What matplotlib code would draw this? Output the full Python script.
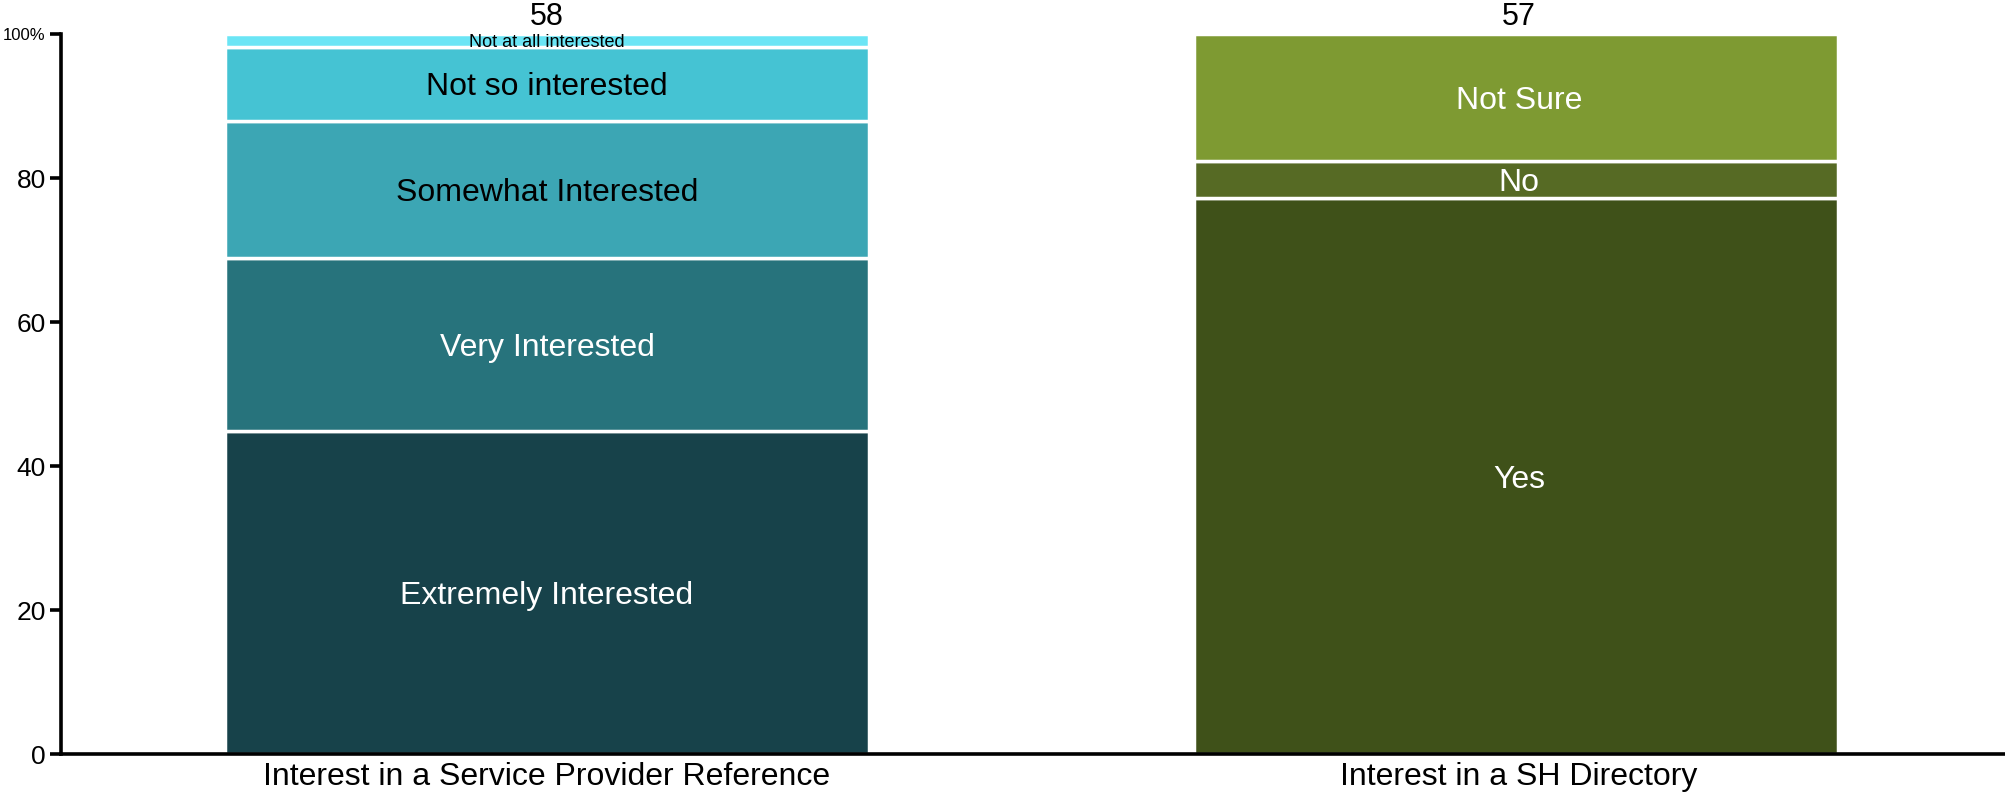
import matplotlib
matplotlib.use("Agg")
import matplotlib.pyplot as plt
import numpy as np

plt.rcParams['font.family'] = ['Liberation Sans', 'DejaVu Sans']

# data
categories = ['Interest in a Service Provider Reference', 'Interest in a SH Directory']

sp_levels = ['Extremely Interested', 'Very Interested', 'Somewhat Interested',
             'Not so interested', 'Not at all interested']
sp_counts = [26, 14, 11, 6, 1]
sp_colors = ['#17424A', '#27737C', '#3CA6B4', '#45C3D3', '#6BE5F5']
sp_text = ['white', 'white', 'black', 'black', 'black']
sp_size = [23, 23, 23, 23, 13]

dir_levels = ['Yes', 'No', 'Not Sure']
dir_counts = [44, 3, 10]
dir_colors = ['#3F5119', '#566A24', '#7E9A32']
dir_text = ['white', 'white', 'white']
dir_size = [23, 23, 23]

y_ticks = [0, 20, 40, 60, 80, 100]
y_labels = ['0', '20', '40', '60', '80', '100%']

fig = plt.figure(figsize=(20.05, 7.98), dpi=100)
ax = fig.add_axes([0.0304, 0.055, 0.9696, 0.902])

bar_w = 0.663
groups = [
    (sp_levels, sp_counts, sp_colors, sp_text, sp_size),
    (dir_levels, dir_counts, dir_colors, dir_text, dir_size),
]

for i, (levels, counts, colors, tcols, tsizes) in enumerate(groups):
    total = sum(counts)
    pct = np.array(counts) / total * 100
    bottom = 0
    for lev, p, c, tc, ts in zip(levels, pct, colors, tcols, tsizes):
        ax.bar(i - 0.003 * i, p, bottom=bottom, width=bar_w, color=c,
               edgecolor='white', linewidth=2.5)
        ax.text(i, bottom + p / 2, lev, ha='center', va='center_baseline',
                color=tc, fontsize=ts, clip_on=False)
        bottom += p
    ax.annotate(str(total), xy=(i, 100), xytext=(0, 2),
                textcoords='offset points', ha='center', va='bottom',
                fontsize=22, annotation_clip=False)

ax.set_xlim(-0.5, 1.5)
ax.set_ylim(0, 100)
ax.set_xticks([0, 1])
ax.set_xticklabels(categories, fontsize=23)
ax.tick_params(axis='x', length=0, pad=6)
ax.set_yticks(y_ticks)
ax.set_yticklabels(y_labels)
ax.tick_params(axis='y', labelsize=19, width=2.6, length=8, pad=3)
ax.get_yticklabels()[-1].set_fontsize(12)

for s in ['top', 'right']:
    ax.spines[s].set_visible(False)
for s in ['left', 'bottom']:
    ax.spines[s].set_linewidth(2.6)

fig.savefig('out.png', dpi=100)
